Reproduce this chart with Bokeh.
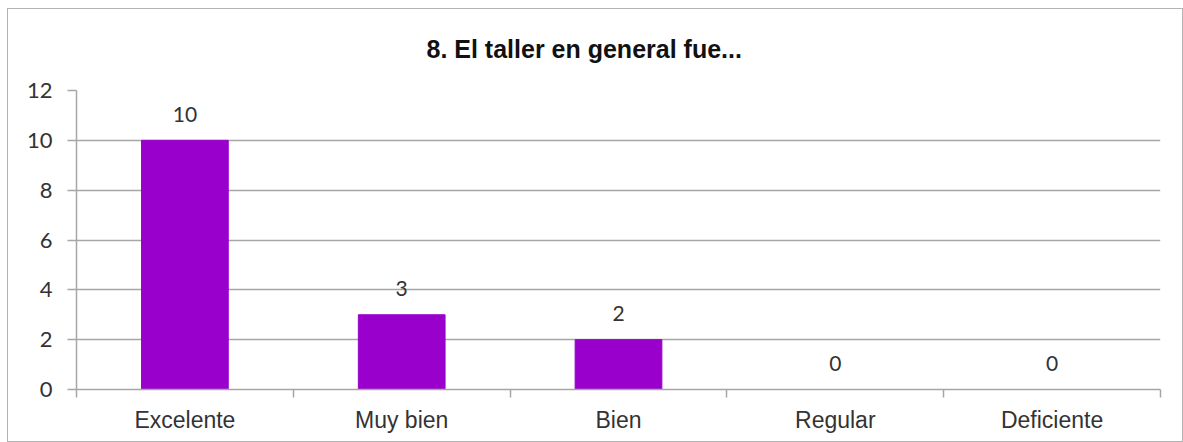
from bokeh.plotting import figure
from bokeh.models import Range1d, FixedTicker, ColumnDataSource, Title
from bokeh.core.properties import value
from bokeh.embed import file_html
from bokeh.resources import INLINE

categories = ["Excelente", "Muy bien", "Bien", "Regular", "Deficiente"]
counts = [10, 3, 2, 0, 0]
y_ticks = [0, 2, 4, 6, 8, 10, 12]
title_text = "8. El taller en general fue..."

BAR = "#9900cc"
GRID = "#a6a6a6"
TXT = "#333333"
FONT = "Liberation Sans"
NUMFONT = "Lato"

xs = [i + 0.5 for i in range(len(categories))]
src = ColumnDataSource(dict(x=xs, top=counts, lab=[str(c) for c in counts]))

p = figure(width=1176, height=434, output_backend="svg", toolbar_location=None,
           x_range=Range1d(0, len(categories)), y_range=Range1d(0, 12),
           min_border_left=68, min_border_right=24, min_border_top=81, min_border_bottom=54,
           styles={"border": "1px solid #b4b4b4", "box-sizing": "border-box",
                   "margin-left": "7px", "margin-top": "8px"})
p.outline_line_color = None
p.background_fill_color = "white"
p.border_fill_color = "white"

p.vbar(x="x", top="top", width=0.4, source=src, fill_color=BAR, line_color=BAR)
p.text(x="x", y="top", text="lab", source=src, text_align="center",
       text_baseline="alphabetic", y_offset=-26, text_font=value(NUMFONT),
       text_font_size="21px", text_color=TXT)

# x axis
p.xaxis.ticker = FixedTicker(ticks=xs, minor_ticks=list(range(len(categories) + 1)))
p.xaxis.major_label_overrides = {x: c for x, c in zip(xs, categories)}
p.xaxis.major_tick_line_color = None
p.xaxis.major_tick_out = 0
p.xaxis.major_tick_in = 0
p.xaxis.minor_tick_out = 8
p.xaxis.minor_tick_in = 0
p.xaxis.minor_tick_line_color = GRID
p.xaxis.minor_tick_line_width = 1.5
p.xaxis.axis_line_color = GRID
p.xaxis.axis_line_width = 1.5
p.xaxis.major_label_text_font = FONT
p.xaxis.major_label_text_font_size = "23px"
p.xaxis.major_label_text_color = TXT
p.xaxis.major_label_standoff = 9
p.xgrid.grid_line_color = None

# y axis
p.yaxis.ticker = FixedTicker(ticks=y_ticks)
p.yaxis.major_tick_out = 9
p.yaxis.major_tick_in = 0
p.yaxis.minor_tick_line_color = None
p.yaxis.major_tick_line_color = GRID
p.yaxis.major_tick_line_width = 1.5
p.yaxis.axis_line_color = GRID
p.yaxis.axis_line_width = 1.5
p.yaxis.major_label_text_font = NUMFONT
p.yaxis.major_label_text_font_size = "22px"
p.yaxis.major_label_text_color = TXT
p.yaxis.major_label_standoff = 15
p.ygrid.ticker = FixedTicker(ticks=y_ticks)
p.ygrid.grid_line_color = GRID
p.ygrid.grid_line_width = 1.5

t = Title(text=title_text, align="left", offset=350, text_font=FONT,
          text_font_size="25px", text_font_style="bold", text_color="#111111",
          vertical_align="top", standoff=51)
p.add_layout(t, "above")

open("out.html", "w").write(file_html(p, INLINE))
